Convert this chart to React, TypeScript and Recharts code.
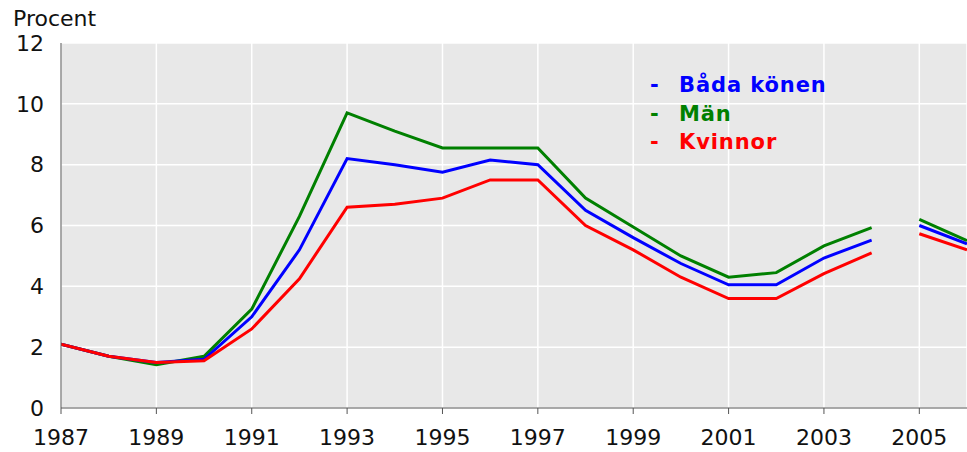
import { CartesianGrid, Line, LineChart, XAxis, YAxis } from "recharts";

// Arbetslöshet i procent, 1987–2006 (break between 2004 and 2005)
const years = [1987, 1988, 1989, 1990, 1991, 1992, 1993, 1994, 1995, 1996, 1997, 1998, 1999, 2000, 2001, 2002, 2003, 2004, 2004.5, 2005, 2006];

const badaKonen = [2.1, 1.7, 1.5, 1.6, 3.0, 5.2, 8.2, 8.0, 7.75, 8.15, 8.0, 6.5, 5.6, 4.75, 4.05, 4.05, 4.93, 5.52, null, 6.0, 5.4];
const man = [2.1, 1.7, 1.42, 1.7, 3.25, 6.3, 9.7, 9.1, 8.55, 8.55, 8.55, 6.9, 5.95, 5.0, 4.3, 4.45, 5.33, 5.93, null, 6.2, 5.5];
const kvinnor = [2.1, 1.7, 1.5, 1.55, 2.6, 4.25, 6.6, 6.7, 6.9, 7.5, 7.5, 6.0, 5.2, 4.3, 3.6, 3.6, 4.42, 5.1, null, 5.73, 5.2];

const xTicks = [1987, 1989, 1991, 1993, 1995, 1997, 1999, 2001, 2003, 2005];
const yTicks = [0, 2, 4, 6, 8, 10, 12];

// drawing order: green under blue under red
const SERIES = [
  { key: "man", name: "Män", color: "#008000" },
  { key: "bada", name: "Båda könen", color: "#0000ff" },
  { key: "kvinnor", name: "Kvinnor", color: "#ff0000" },
];
const LEGEND_ORDER = ["bada", "man", "kvinnor"];

const data = years.map((year, i) => ({
  year,
  bada: badaKonen[i],
  man: man[i],
  kvinnor: kvinnor[i],
}));

const FONT = "'DejaVu Sans', Verdana, sans-serif";
const TICK = { fontSize: 22, fontFamily: FONT, fill: "#111" };

function SeriesLegend() {
  return (
    <div
      style={{
        position: "absolute",
        left: 650,
        top: 71,
        fontFamily: FONT,
        fontWeight: "bold",
        fontSize: 21,
        letterSpacing: 0.9,
      }}
    >
      {LEGEND_ORDER.map((k) => {
        const s = SERIES.find((x) => x.key === k)!;
        return (
          <div key={k} style={{ color: s.color, height: 28.5, lineHeight: "28.5px", whiteSpace: "nowrap" }}>
            <span style={{ display: "inline-block", width: 29 }}>-</span>
            {s.name}
          </div>
        );
      })}
    </div>
  );
}

export default function App() {
  return (
    <div style={{ position: "absolute", left: 0, top: 0, width: 967, height: 452, background: "#fff", overflow: "hidden" }}>
      <div
        style={{
          position: "absolute",
          left: 13,
          top: 6,
          fontFamily: FONT,
          fontSize: 22,
          color: "#111",
          lineHeight: "26px",
        }}
      >
        Procent
      </div>
      <LineChart width={967} height={452} data={data} margin={{ top: 43, right: 0, bottom: 4, left: 0 }}>
        <CartesianGrid fill="#e8e8e8" stroke="#ffffff" strokeWidth={1.5} />
        <XAxis
          dataKey="year"
          type="number"
          domain={[1987, 2006]}
          ticks={xTicks}
          allowDataOverflow
          tick={TICK}
          tickSize={6}
          tickMargin={15}
          height={40}
          stroke="#555"
        />
        <YAxis
          domain={[0, 12]}
          ticks={yTicks}
          tick={TICK}
          tickLine={false}
          tickSize={0}
          tickMargin={17}
          width={61}
          stroke="#555"
        />
        {SERIES.map((s) => (
          <Line
            key={s.key}
            type="linear"
            dataKey={s.key}
            name={s.name}
            stroke={s.color}
            strokeWidth={3}
            dot={false}
            connectNulls={false}
            isAnimationActive={false}
          />
        ))}
      </LineChart>
      <SeriesLegend />
    </div>
  );
}
